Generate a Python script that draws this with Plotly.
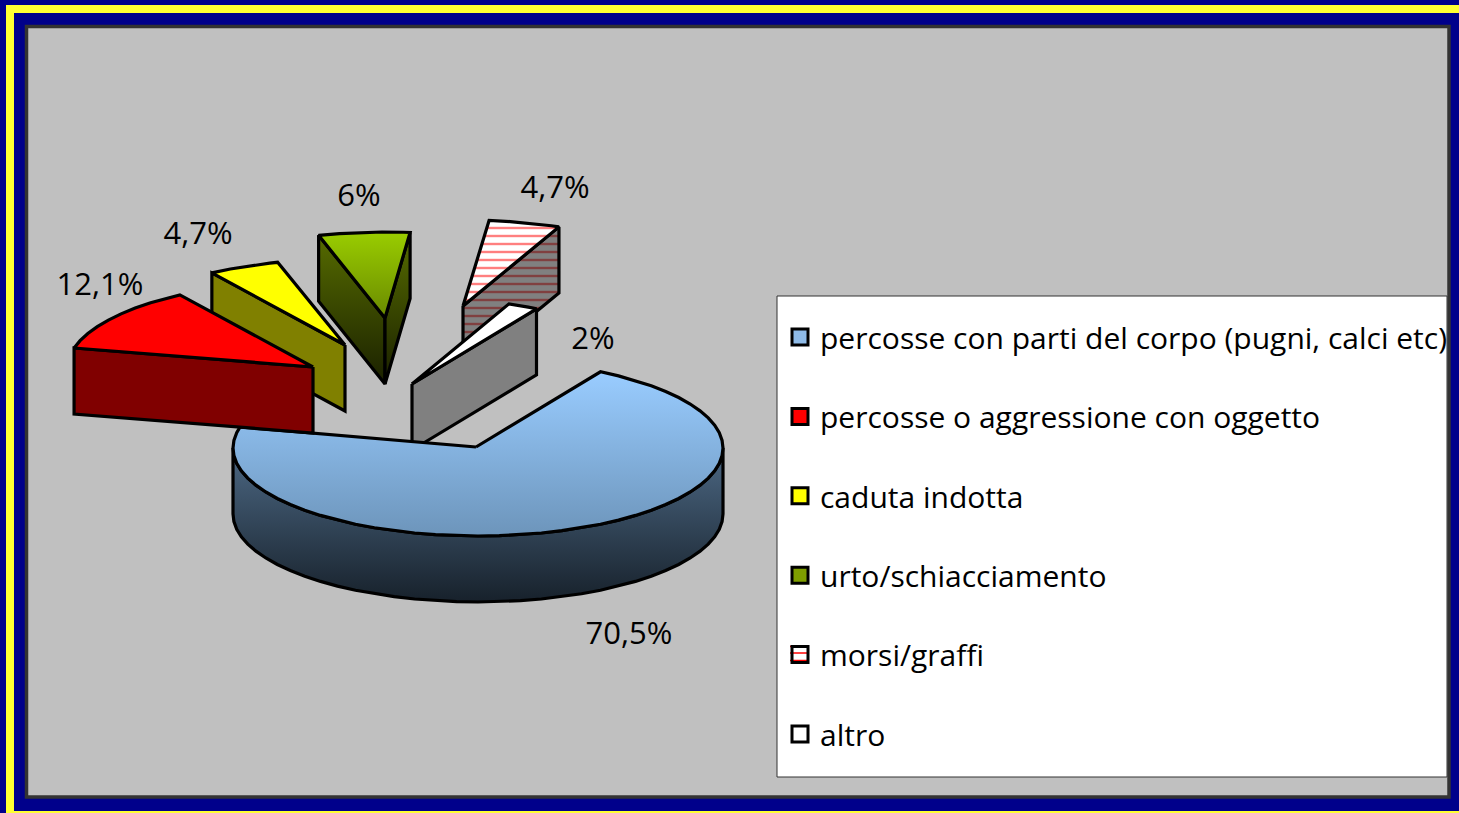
import numpy as np
import plotly.graph_objects as go

# ---- data ----
categories = ["percosse con parti del corpo (pugni, calci etc)",
              "percosse o aggressione con oggetto",
              "caduta indotta",
              "urto/schiacciamento",
              "morsi/graffi",
              "altro"]
values = [70.5, 12.1, 4.7, 6, 4.7, 2]

# ---- style / projection ----
ROT = 30.0
CX, CY, RX, RY, DEPTH = 478, 447, 245, 88, 66
explode = [(0, 0), (-163, -80), (-131, -102), (-91, -129), (-13, -141), (-64, -63)]
arc_nudge = [(0, 1), (-3, 2), (-3, 2), (-2, 2), (-1, 2), (0, 1)]
draw_order = [4, 5, 3, 2, 0, 1]
swatch = ["#8fbbe8", "#ff0000", "#ffff00", "#7f9f00", "#ffffff", "#ffffff"]
top_fill = [
    dict(grad=[[0, "#99ccff"], [1, "#6d95bb"]], rng=(373, 535)),
    dict(solid="#ff0000"),
    dict(solid="#ffff00"),
    dict(grad=[[0, "#99cc00"], [1, "#6a8a00"]], rng=(233, 318)),
    dict(pattern=dict(shape="-", bgcolor="#ffffff", fgcolor="#ff0000", size=8, solidity=0.3)),
    dict(solid="#ffffff"),
]
side_fill = [
    dict(grad=[[0, "#4d6985"], [1, "#17212b"]], rng=(447, 602)),
    dict(solid="#800000"),
    dict(solid="#808000"),
    dict(grad=[[0, "#566b00"], [1, "#1a2000"]], rng=(235, 385)),
    dict(pattern=dict(shape="-", bgcolor="#808080", fgcolor="#800000", size=8, solidity=0.3)),
    dict(solid="#808080"),
]
label_xy = [(629, 636), (100, 287), (198, 236), (359, 198), (555, 190), (593, 341)]
FONT = "Open Sans"
LW = 3.2


def pt(theta, ox, oy, dz=0):
    t = np.radians(theta)
    return CX + ox + RX * np.sin(t), CY + oy - RY * np.cos(t) + dz


def fill_kw(f):
    if "solid" in f:
        return dict(fillcolor=f["solid"])
    if "pattern" in f:
        return dict(fillcolor=f["pattern"]["bgcolor"], fillpattern=f["pattern"])
    return dict(fillgradient=dict(type="vertical", colorscale=f["grad"],
                                  start=f["rng"][0], stop=f["rng"][1]))


def poly(xs, ys, f):
    return go.Scatter(x=xs, y=ys, mode="lines", fill="toself",
                      line=dict(color="black", width=LW), showlegend=False,
                      hoverinfo="skip", **fill_kw(f))


fig = go.Figure()
spans = []
a = ROT
for v in values:
    spans.append((a, a + v * 3.6))
    a += v * 3.6

for i in draw_order:
    a0, a1 = spans[i]
    ox, oy = explode[i]
    ax, ay = CX + ox - 2, CY + oy
    ox += arc_nudge[i][0]
    oy += arc_nudge[i][1]
    arc = np.append(np.arange(a0, a1, 5.0), a1)
    arc_x, arc_y = pt(arc, ox, oy)
    mid_x, mid_y = pt((a0 + a1) / 2, ox, oy)

    # radial side walls that face the viewer
    for th in (a0, a1):
        ex, ey = pt(th, ox, oy)
        edge_at_mid = ay + (ey - ay) * (mid_x - ax) / (ex - ax)
        if mid_y < edge_at_mid:
            fig.add_trace(poly([ax, ex, ex, ax, ax],
                               [ay, ey, ey + DEPTH, ay + DEPTH, ay], side_fill[i]))
    # outer rim, front half only
    lo, hi = max(a0, 90), min(a1, 270)
    if lo < hi:
        rim = np.append(np.arange(lo, hi, 5.0), hi)
        rx_, ry_ = pt(rim, ox, oy)
        rxb, ryb = pt(rim[::-1], ox, oy, DEPTH)
        fig.add_trace(poly(np.r_[rx_, rxb, rx_[0]], np.r_[ry_, ryb, ry_[0]], side_fill[i]))
    # top face
    fig.add_trace(poly(np.r_[ax, arc_x, ax], np.r_[ay, arc_y, ay], top_fill[i]))

# percentage labels
fig.add_trace(go.Scatter(
    x=[p[0] for p in label_xy], y=[p[1] for p in label_xy], mode="text",
    text=[f"{v:g}%".replace(".", ",") for v in values],
    textposition="middle center", textfont=dict(family=FONT, size=31, color="black"),
    showlegend=False, hoverinfo="skip"))

# legend entries
for i, (name, c) in enumerate(zip(categories, swatch)):
    clear = i >= 4
    fig.add_trace(go.Scatter(
        x=[None], y=[None], mode="markers", name=name, legendgroup=f"g{i}",
        marker=dict(symbol="square", size=16,
                    color="rgba(0,0,0,0)" if clear else c,
                    line=dict(color="black", width=3))))

shapes = [
    dict(type="rect", x0=10, y0=9, x1=1520, y1=815, line=dict(color="#ffff33", width=8), layer="below"),
    dict(type="rect", x0=26.5, y0=26.5, x1=1449, y1=797, fillcolor="#c0c0c0",
         line=dict(color="#333333", width=3.5), layer="below"),
    dict(type="rect", x0=777, y0=296, x1=1447, y1=777, fillcolor="#ffffff",
         line=dict(color="#333333", width=1), layer="below"),
]
for yy in (646.5, 653, 660.5):
    shapes.append(dict(type="line", x0=790, x1=809, y0=yy, y1=yy,
                       line=dict(color="#ff0000", width=1.5), layer="below"))

fig.update_layout(
    width=1459, height=813, margin=dict(l=0, r=0, t=0, b=0, pad=0),
    paper_bgcolor="#00008b", plot_bgcolor="rgba(0,0,0,0)",
    xaxis=dict(range=[0, 1459], visible=False, fixedrange=True),
    yaxis=dict(range=[813, 0], visible=False, fixedrange=True),
    shapes=shapes,
    showlegend=True,
    legend=dict(x=780 / 1459, y=1 - 311 / 813, xanchor="left", yanchor="top",
                bgcolor="rgba(0,0,0,0)", borderwidth=0, itemwidth=30,
                font=dict(family=FONT, size=30, color="black"),
                traceorder="grouped", tracegroupgap=37.4, itemclick=False, itemdoubleclick=False),
)
fig.write_html("out.html", config=dict(displayModeBar=False),
               post_script="document.body.style.margin='0';")
